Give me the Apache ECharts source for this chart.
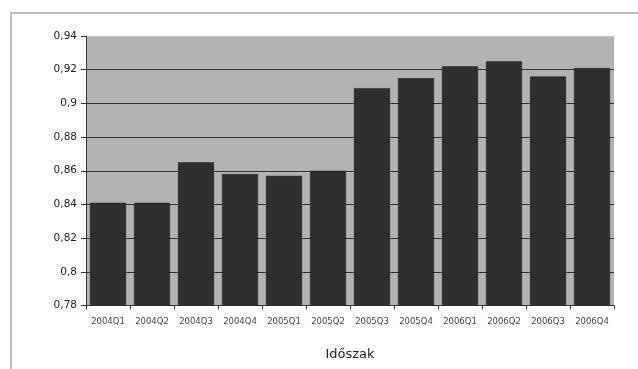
<!DOCTYPE html>
<html><head><meta charset="utf-8">
<script src="https://cdn.jsdelivr.net/npm/echarts@6/dist/echarts.min.js"></script>
<style>html,body{margin:0;padding:0;background:#fff}#c{width:638px;height:369px}</style>
</head><body><div id="c"></div>
<script>
const categories = ['2004Q1','2004Q2','2004Q3','2004Q4','2005Q1','2005Q2','2005Q3','2005Q4','2006Q1','2006Q2','2006Q3','2006Q4'];
const values = [0.841,0.841,0.865,0.858,0.857,0.860,0.909,0.915,0.922,0.925,0.916,0.921];
const xAxisTitle = 'Időszak';
const yMin = 0.78, yMax = 0.94, yStep = 0.02;

const chart = echarts.init(document.getElementById('c'), null, {renderer:'canvas'});
chart.setOption({
  animation:false,
  backgroundColor:'#fff',
  graphic:[{type:'rect', shape:{x:11,y:13,width:700,height:400}, style:{fill:'none', stroke:'#bdbdbd', lineWidth:2}, silent:true}],
  grid:{left:86,right:24,top:36,bottom:63.5,show:true,backgroundColor:'#b3b3b3',borderWidth:0},
  xAxis:{
    type:'category', data:categories,
    name:xAxisTitle, nameLocation:'middle', nameGap:43,
    nameTextStyle:{fontFamily:'DejaVu Sans',fontSize:13,color:'#222'},
    axisLine:{lineStyle:{color:'#333',width:1}},
    axisTick:{show:true,length:4,lineStyle:{color:'#333'}},
    axisLabel:{fontFamily:'DejaVu Sans',fontSize:8.5,color:'#444',margin:12,interval:0}
  },
  yAxis:{
    type:'value', min:yMin, max:yMax, interval:yStep,
    axisLine:{show:true,lineStyle:{color:'#333',width:1}},
    axisTick:{show:true,length:5,lineStyle:{color:'#333'}},
    axisLabel:{fontFamily:'DejaVu Sans',fontSize:10.5,color:'#222',margin:9,
      formatter:v=>String(parseFloat(v.toFixed(2))).replace('.',',')},
    splitLine:{show:true,lineStyle:{color:['#333','#333','#333','#333','#333','#333','#333','#333','#c4c4c4'],width:1}}
  },
  series:[{type:'bar', data:values, barCategoryGap:'18%',
    itemStyle:{color:'#2e2e2e', borderColor:'#262626', borderWidth:0.5}}]
});
</script></body></html>
